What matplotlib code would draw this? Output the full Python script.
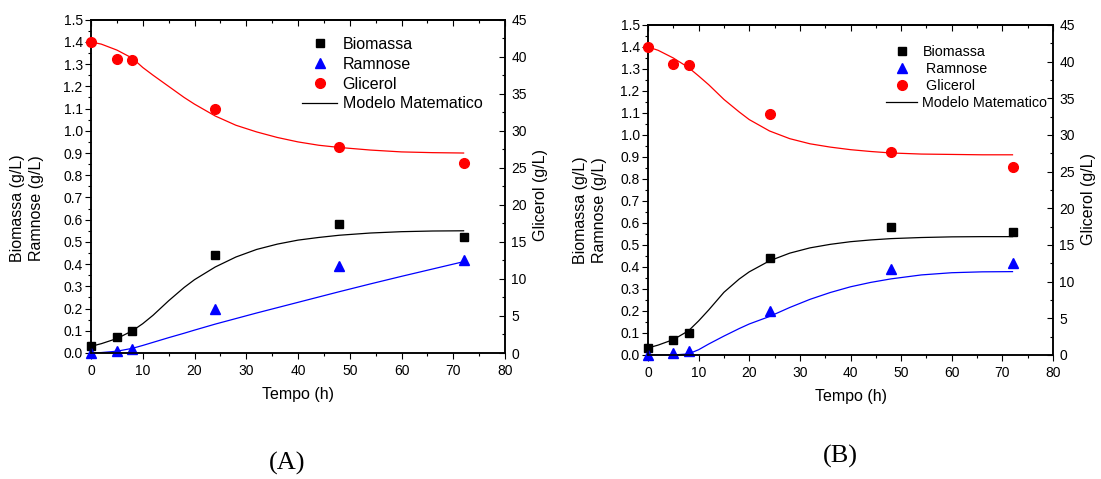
import matplotlib
matplotlib.use("Agg")
import matplotlib.pyplot as plt
from matplotlib.lines import Line2D
from matplotlib.ticker import MultipleLocator

plt.rcParams['font.family'] = ['Liberation Sans', 'DejaVu Sans']

# experimental points (time in h)
tempo = [0, 5, 8, 24, 48, 72]
biomassa_A = [0.03, 0.07, 0.10, 0.44, 0.58, 0.52]
ramnose_A = [0.0, 0.01, 0.02, 0.20, 0.39, 0.42]
glicerol_A = [42.0, 39.75, 39.5, 33.0, 27.75, 25.7]
biomassa_B = [0.032, 0.07, 0.10, 0.44, 0.58, 0.56]
ramnose_B = [0.0, 0.01, 0.02, 0.20, 0.39, 0.42]
glicerol_B = [42.0, 39.7, 39.5, 32.9, 27.7, 25.7]

# model output sampled on a common time grid
t_mod = [0, 2, 5, 8, 10, 12, 15, 18, 20, 24, 28, 32, 36, 40, 44, 48, 54, 60, 66, 72]
mod_bio_A = [0.030, 0.042, 0.065, 0.10, 0.132, 0.17, 0.235, 0.295, 0.33, 0.387,
             0.432, 0.466, 0.49, 0.508, 0.52, 0.53, 0.54, 0.546, 0.549, 0.55]
mod_ram_A = [0.0, 0.002, 0.008, 0.021, 0.034, 0.048, 0.069, 0.089, 0.103, 0.13,
             0.155, 0.18, 0.204, 0.228, 0.252, 0.276, 0.311, 0.345, 0.378, 0.411]
mod_gli_A = [42.0, 41.7, 40.9, 39.8, 38.55, 37.5, 36.0, 34.5, 33.6, 32.0,
             30.75, 29.85, 29.1, 28.5, 28.05, 27.75, 27.4, 27.15, 27.05, 27.0]
mod_bio_B = [0.032, 0.045, 0.07, 0.11, 0.155, 0.205, 0.285, 0.345, 0.378, 0.428,
             0.463, 0.487, 0.503, 0.515, 0.523, 0.529, 0.534, 0.537, 0.538, 0.538]
mod_ram_B = [0.0, 0.0, 0.0, 0.005, 0.024, 0.05, 0.086, 0.12, 0.141, 0.175,
             0.216, 0.253, 0.284, 0.31, 0.33, 0.346, 0.364, 0.374, 0.378, 0.379]
mod_gli_B = [42.0, 41.55, 40.5, 39.2, 38.05, 36.85, 34.85, 33.15, 32.1, 30.55,
             29.5, 28.8, 28.35, 28.0, 27.75, 27.55, 27.4, 27.35, 27.3, 27.3]

W, H = 1101, 479
fig = plt.figure(figsize=(W / 100, H / 100), dpi=100)


def px(x, y):
    return x / W, 1 - y / H


def panel(rect, tempo, bio, ram, gli, mbio, mram, mgli, leg_xy, leg_fs, leg_sp, labels):
    ax = fig.add_axes(rect)
    ax2 = ax.twinx()

    ax.plot(t_mod, mbio, color='black', lw=0.9)
    ax.plot(t_mod, mram, color='blue', lw=0.9)
    ax2.plot(t_mod, mgli, color='red', lw=0.9)
    ax.plot(tempo, bio, 's', color='black', ms=6.3, clip_on=False, zorder=5)
    ax.plot(tempo, ram, '^', color='blue', ms=7.2, clip_on=False, zorder=5)
    ax2.plot(tempo, gli, 'o', color='red', ms=7.0, clip_on=False, zorder=5)

    ax.set_xlim(0, 80)
    ax.set_ylim(0, 1.5)
    ax2.set_ylim(0, 45)
    ax.xaxis.set_major_locator(MultipleLocator(10))
    ax.xaxis.set_minor_locator(MultipleLocator(5))
    ax.yaxis.set_major_locator(MultipleLocator(0.1))
    ax.yaxis.set_minor_locator(MultipleLocator(0.05))
    ax.yaxis.set_major_formatter(lambda v, p: f"{v:.1f}")
    ax2.yaxis.set_major_locator(MultipleLocator(5))
    ax2.yaxis.set_minor_locator(MultipleLocator(2.5))

    ax.tick_params(which='major', direction='out', length=4.5, width=0.8,
                   labelsize=10, pad=1.5)
    ax.tick_params(which='minor', direction='out', length=2.3, width=0.8)
    ax.tick_params(axis='x', which='major', pad=3.5)
    ax2.tick_params(which='major', direction='in', length=4.5, width=0.8,
                    labelsize=10, pad=4.5)
    ax2.tick_params(which='minor', direction='in', length=2.3, width=0.8)

    top = ax.secondary_xaxis('top')
    top.xaxis.set_major_locator(MultipleLocator(10))
    top.xaxis.set_minor_locator(MultipleLocator(5))
    top.tick_params(which='major', direction='in', length=4.5, width=0.8, labeltop=False)
    top.tick_params(which='minor', direction='in', length=2.3, width=0.8)

    for a in (ax, ax2, top):
        for s in a.spines.values():
            s.set_linewidth(1.1)

    handles = [
        Line2D([], [], ls='none', marker='s', color='black', ms=6.0),
        Line2D([], [], ls='none', marker='^', color='blue', ms=7.0),
        Line2D([], [], ls='none', marker='o', color='red', ms=7.0),
        Line2D([], [], color='black', lw=0.9),
    ]
    lx, ly = leg_xy
    ax2.legend(handles, labels, loc='upper left',
               bbox_to_anchor=(lx, ly), bbox_transform=fig.transFigure,
               frameon=False, fontsize=leg_fs, handlelength=2.2,
               handletextpad=0.35, labelspacing=leg_sp, borderpad=0,
               borderaxespad=0)
    return ax, ax2


# panel A
panel([91 / W, 1 - 353 / H, 414 / W, 333.3 / H], tempo, biomassa_A, ramnose_A,
      glicerol_A, mod_bio_A, mod_ram_A, mod_gli_A, px(302, 37), 11.5, 0.3,
      ['Biomassa', 'Ramnose', 'Glicerol', 'Modelo Matematico'])
fig.text(*px(27, 208), 'Biomassa (g/L)\nRamnose (g/L)', rotation=90,
         ha='center', va='center', fontsize=11.5, linespacing=1.35)
fig.text(*px(541, 195), 'Glicerol (g/L)', rotation=90, ha='center',
         va='center', fontsize=11.5)
fig.text(*px(298, 395), 'Tempo (h)', ha='center', va='center', fontsize=11.5)
fig.text(*px(287, 463), '(A)', ha='center', va='center', fontsize=19,
         family='Liberation Serif')

# panel B
panel([648 / W, 1 - 355 / H, 405 / W, 330 / H], tempo, biomassa_B, ramnose_B,
      glicerol_B, mod_bio_B, mod_ram_B, mod_gli_B, px(886, 45), 10.3, 0.22,
      ['Biomassa', ' Ramnose', ' Glicerol', 'Modelo Matematico'])
fig.text(*px(590, 210), 'Biomassa (g/L)\nRamnose (g/L)', rotation=90,
         ha='center', va='center', fontsize=11.5, linespacing=1.35)
fig.text(*px(1088, 199), 'Glicerol (g/L)', rotation=90, ha='center',
         va='center', fontsize=11.5)
fig.text(*px(851, 397), 'Tempo (h)', ha='center', va='center', fontsize=11.5)
fig.text(*px(840, 456), '(B)', ha='center', va='center', fontsize=19,
         family='Liberation Serif')

fig.savefig('out.png', dpi=100)
